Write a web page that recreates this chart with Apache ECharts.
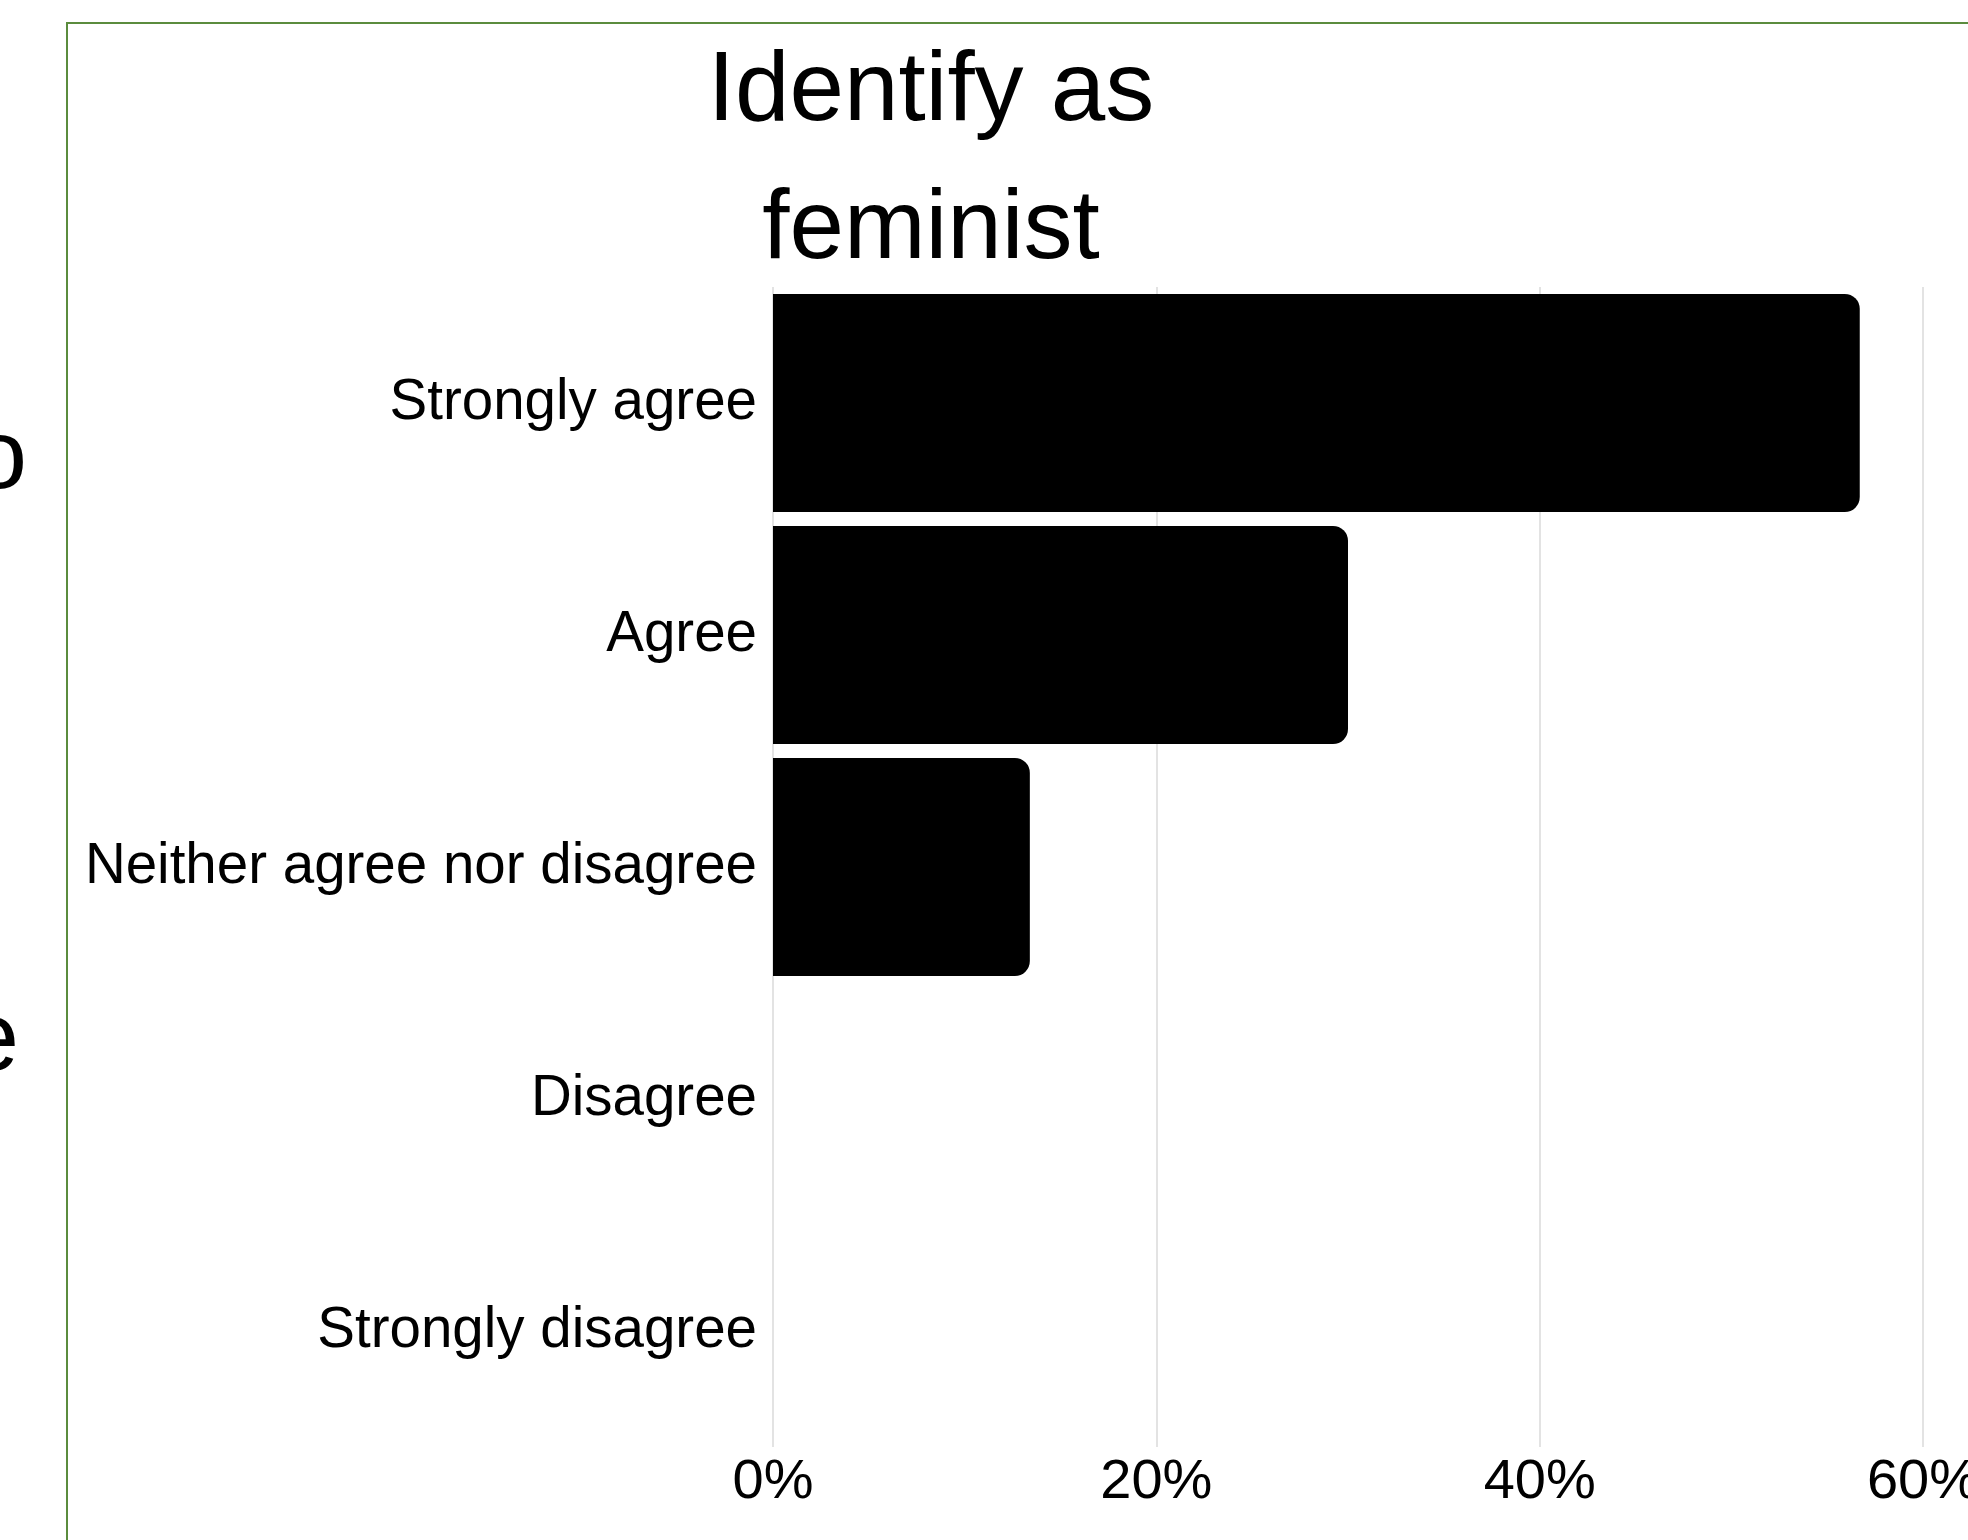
<!DOCTYPE html>
<html>
<head>
<meta charset="utf-8">
<script src="https://cdn.jsdelivr.net/npm/echarts@6/dist/echarts.min.js"></script>
<style>
html,body{margin:0;padding:0;background:#fff;overflow:hidden;}
#chart{width:1968px;height:1540px;}
</style>
</head>
<body>
<div id="chart"></div>
<script>
const categories = ['Strongly agree', 'Agree', 'Neither agree nor disagree', 'Disagree', 'Strongly disagree'];
const values = [56.7, 30.0, 13.4, 0, 0];
const tickValues = [0, 20, 40, 60];
const titleText = 'Identify as\nfeminist';

const FONT = '"Liberation Sans", Arial, sans-serif';
const chart = echarts.init(document.getElementById('chart'), null, { width: 1968, height: 1540 });
chart.setOption({
  backgroundColor: '#ffffff',
  animation: false,
  grid: { left: 773, right: 45, top: 287, height: 1160, containLabel: false, outerBoundsMode: 'none' },
  xAxis: {
    type: 'value',
    min: tickValues[0],
    max: tickValues[tickValues.length - 1],
    interval: tickValues[1] - tickValues[0],
    axisLine: { show: false },
    axisTick: { show: false },
    splitLine: { show: true, lineStyle: { color: '#e3e3e3', width: 2 } },
    axisLabel: { formatter: '{value}%', fontSize: 56, color: '#000', fontFamily: FONT, margin: 8 }
  },
  yAxis: {
    type: 'category',
    data: categories,
    inverse: true,
    axisLine: { show: false },
    axisTick: { show: false },
    splitLine: { show: false },
    axisLabel: { fontSize: 56.5, color: '#000', fontFamily: FONT, margin: 16 }
  },
  series: [{
    type: 'bar',
    data: values,
    barCategoryGap: '6%',
    itemStyle: { color: '#000000', borderRadius: [0, 15, 15, 0] }
  }],
  graphic: [
    {
      type: 'rect',
      shape: { x: 67, y: 23, width: 2000, height: 1600 },
      style: { fill: 'none', stroke: '#5b8c3e', lineWidth: 2 },
      silent: true
    },
    {
      type: 'text',
      style: {
        text: titleText, x: 931, y: 24,
        textAlign: 'center', textVerticalAlign: 'top',
        fontSize: 98, lineHeight: 138, fontFamily: FONT, fill: '#000'
      }
    },
    {
      type: 'text',
      style: { text: 'o', x: 27, y: 510, textAlign: 'right', textVerticalAlign: 'bottom', fontSize: 98, fontFamily: FONT, fill: '#000' }
    },
    {
      type: 'text',
      style: { text: 'e', x: 19, y: 1092, textAlign: 'right', textVerticalAlign: 'bottom', fontSize: 98, fontFamily: FONT, fill: '#000' }
    }
  ]
});
</script>
</body>
</html>
